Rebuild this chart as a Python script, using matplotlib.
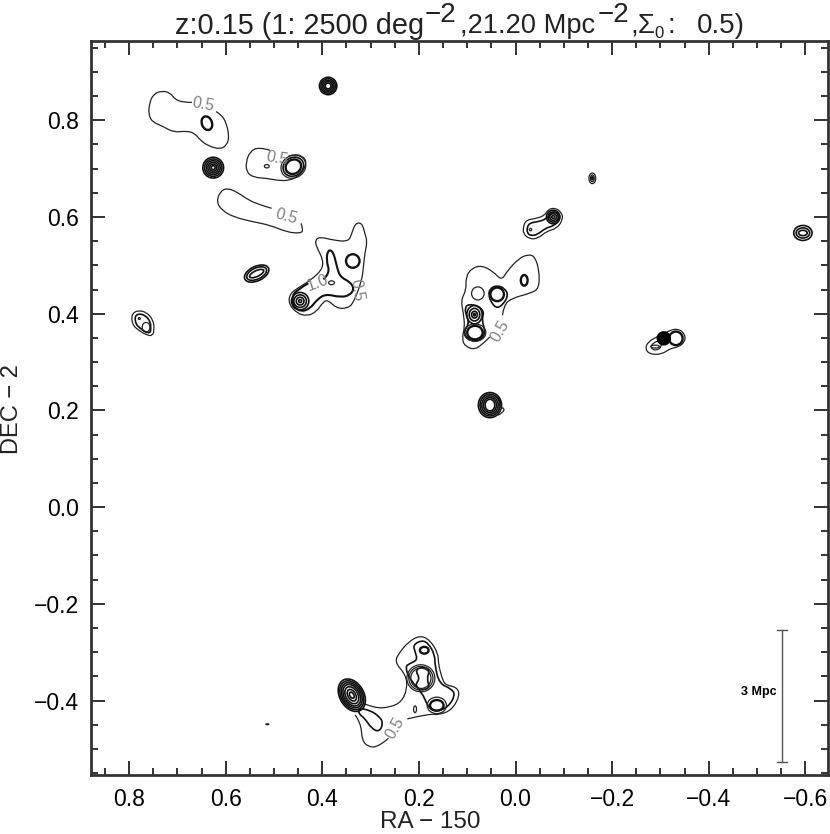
import numpy as np
import matplotlib
matplotlib.use('Agg')
import matplotlib.pyplot as plt
from matplotlib.patches import Ellipse, PathPatch
from matplotlib.path import Path

# contornos, pares (RA-150, DEC-2)
nw_outer = [(.670,.837),(.688,.837),(.705,.843),(.715,.857),(.733,.861),(.750,.854),(.758,.835),(.760,.814),
            (.753,.797),(.729,.787),(.708,.775),(.681,.778),(.664,.773),(.653,.759),(.636,.747),(.612,.740),
            (.597,.749),(.593,.769),(.599,.794),(.608,.811),(.620,.818)]
mid_outer = [(.508,.738),(.532,.745),(.550,.735),(.558,.714),(.557,.693),(.543,.682),(.515,.680),(.488,.675),
             (.467,.676),(.453,.683),(.441,.693),(.432,.714),(.441,.726),(.457,.730),(.470,.726)]
long_outer = [(.505,.618),(.529,.625),(.553,.635),(.577,.652),(.598,.660),(.612,.652),(.619,.631),(.608,.614),
              (.584,.600),(.543,.590),(.508,.583),(.474,.569),(.446,.566),(.439,.573),(.444,.587)]
west_outer = [(.795,.390),(.793,.401),(.781,.407),(.764,.403),(.750,.387),(.748,.366),(.752,.354),(.764,.356),
              (.781,.366),(.792,.376)]
west_inner = [(.788,.390),(.786,.397),(.778,.400),(.766,.396),(.756,.384),(.755,.367),(.757,.360),(.766,.362),
              (.779,.371),(.786,.379)]
core_outer = [(.318,.469),(.315,.497),(.312,.525),(.307,.549),(.312,.566),(.318,.588),(.332,.587),(.339,.566),
              (.346,.549),(.377,.552),(.405,.559),(.415,.552),(.412,.538),(.398,.511),(.401,.490),(.425,.469),
              (.446,.456),(.467,.442),(.470,.421),(.453,.401),(.432,.395),(.412,.404),(.398,.425),(.388,.428),
              (.370,.411),(.349,.411),(.336,.421)]
core_inner = [(.429,.463),(.453,.449),(.463,.435),(.460,.414),(.443,.404),(.425,.411),(.412,.428),(.394,.441),
              (.363,.434),(.343,.438),(.334,.452),(.343,.466),(.363,.476),(.370,.497),(.377,.528),(.388,.533),
              (.392,.511),(.384,.483),(.398,.471)]
bell_outer = [(-.016,.580),(-.022,.594),(-.044,.597),(-.061,.604),(-.068,.616),(-.082,.619),(-.096,.609),(-.098,.594),
              (-.085,.576),(-.065,.571),(-.047,.556),(-.030,.554),(-.016,.565)]
bell_inner = [(-.024,.579),(-.030,.588),(-.046,.590),(-.064,.596),(-.072,.608),(-.082,.611),(-.090,.606),(-.091,.594),
              (-.080,.582),(-.062,.577),(-.046,.564),(-.032,.561),(-.024,.567)]
center_outer = [(.053,.352),(.063,.342),(.084,.325),(.105,.333),(.111,.349),(.105,.373),(.108,.401),(.113,.428),
                (.102,.449),(.103,.476),(.091,.494),(.070,.500),(.046,.487),(.029,.469),(.018,.487),(-.006,.514),
                (-.027,.523),(-.040,.518),(-.049,.490),(-.049,.452),(-.030,.442),(.008,.432),(.024,.418),(.027,.397)]
center_lobe = [(.105,.411),(.098,.420),(.077,.416),(.065,.404),(.070,.387),(.063,.366),(.067,.349),(.084,.342),
               (.101,.349),(.107,.363),(.096,.380),(.102,.397)]
center_ring = [(.056,.438),(.053,.452),(.038,.459),(.022,.452),(.015,.438),(.025,.420),(.038,.411),(.049,.421)]
east_outer = [(-.268,.328),(-.275,.342),(-.292,.352),(-.320,.366),(-.337,.369),(-.351,.358),(-.351,.342),(-.337,.331),
              (-.320,.328),(-.303,.316),(-.278,.316)]
east_inner = [(-.279,.330),(-.285,.340),(-.300,.345),(-.303,.331),(-.290,.323)]
tail = [(.038,.228),(.029,.216),(.030,.205),(.024,.205),(.024,.197),(.036,.190)]
south_a = [(.224,-.438),(.177,-.427),(.160,-.430),(.132,-.420),(.115,-.389),(.122,-.372),(.146,-.368),(.153,-.351),
           (.160,-.323),(.160,-.303),(.177,-.275),(.198,-.265),(.222,-.279),(.239,-.299),(.251,-.320),(.227,-.347),
           (.224,-.375),(.236,-.403),(.260,-.414),(.291,-.416),(.315,-.406)]
south_b = [(.263,-.478),(.284,-.496),(.305,-.496),(.318,-.482),(.320,-.447),(.332,-.430)]
south_lobe = [(.325,-.416),(.301,-.420),(.281,-.434),(.274,-.447),(.282,-.465),(.298,-.458),(.312,-.437),(.325,-.427)]
south_inner = [(.212,-.285),(.194,-.275),(.180,-.282),(.167,-.306),(.167,-.327),(.158,-.365),(.132,-.376),(.125,-.389),
               (.139,-.413),(.163,-.423),(.180,-.416),(.194,-.382),(.218,-.358),(.229,-.330),(.218,-.323),(.203,-.316),
               (.208,-.299)]
south_s = [(.208,-.337),(.191,-.330),(.177,-.337),(.184,-.354),(.177,-.375),(.198,-.378),(.208,-.368),(.198,-.354)]

open_lines = [nw_outer, mid_outer, long_outer, center_outer, south_a, south_b, tail]
open_thick = [core_inner]
closed_thin = [west_outer, core_outer, bell_outer, east_outer, east_inner]
closed_thick = [center_ring, west_inner, bell_inner, center_lobe, south_lobe, south_inner, south_s]

# anillos: ra, dec, ancho, alto, angulo
thin_rings = [
    (.460,.704,.053,.046,-30),
    (.515,.705,.010,.007,0),
    (.779,.390,.004,.004,0),(.765,.372,.016,.020,0),
    (.381,.464,.012,.008,0),
    (-.031,.574,.005,.005,0),
    (.078,.442,.026,.027,0),
    (.084,.361,.045,.036,0),
    (-.289,.332,.018,.006,0),
    (.163,-.410,.040,.034,0),(.208,-.418,.006,.014,0),(.514,-.449,.006,.002,0),
    (.196,-.354,.058,.056,0),(.196,-.354,.050,.049,0),(.196,-.354,.042,.042,0),
    (-.159,.680,.014,.022,0),(-.159,.680,.008,.014,0),
]
dense_rings = [
    (.388,.871,.036,.036,0),(.388,.871,.030,.030,0),(.388,.871,.024,.024,0),(.388,.871,.018,.018,0),
    (.388,.871,.012,.012,0),
    (.626,.702,.043,.043,0),(.626,.702,.036,.036,0),(.626,.702,.029,.029,0),(.626,.702,.022,.022,0),
    (.626,.702,.015,.015,0),(.626,.702,.008,.008,0),
    (.460,.704,.044,.038,-30),
    (.536,.483,.054,.030,-25),(.536,.483,.044,.023,-25),(.536,.483,.032,.012,-25),
    (.446,.426,.036,.036,0),(.446,.426,.026,.026,0),(.446,.426,.016,.016,0),(.446,.426,.006,.006,0),
    (-.159,.680,.003,.006,0),
    (-.595,.567,.038,.031,0),(-.595,.567,.028,.021,0),(-.595,.567,.018,.011,0),
    (-.078,.600,.028,.028,0),(-.078,.600,.021,.021,0),(-.078,.600,.014,.014,0),(-.078,.600,.006,.006,0),
    (.085,.398,.032,.038,0),(.085,.398,.022,.026,0),(.085,.398,.012,.014,0),(.085,.398,.004,.005,0),
    (.053,.211,.048,.052,0),(.053,.211,.041,.045,0),(.053,.211,.034,.038,0),(.053,.211,.027,.031,0),
    (.053,.211,.020,.024,0),
    (.339,-.389,.072,.050,60),(.339,-.389,.064,.044,60),(.339,-.389,.056,.038,60),(.339,-.389,.048,.032,60),
    (.339,-.389,.038,.025,60),(.339,-.389,.026,.016,60),(.339,-.389,.014,.008,60),
]
thick_rings = [
    (.460,.704,.033,.029,-30),
    (.639,.794,.021,.029,-20),
    (.337,.509,.028,.028,0),
    (.038,.440,.028,.028,0),
    (-.018,.469,.014,.022,0),
    (.084,.361,.032,.028,0),
    (-.332,.349,.028,.028,0),
    (.189,-.296,.018,.014,0),
    (.163,-.410,.028,.022,0),
]
filled_knot = (-.307, .349, .027, .027)

# etiquetas de contorno: texto, ra, dec, rotacion
contour_labels = [
    ('0.5', .647, .833, -10), ('0.5', .494, .722, -10), ('0.5', .475, .602, -15), ('1.0', .409, .463, 20),
    ('0.5', .328, .449, -80), ('0.5', .032, .363, 60), ('0.5', .249, -.457, 60),
]

bar_ra = -.552
bar_dec = [-.254, -.527]
bar_cap = .011

major_x = [0.8, 0.6, 0.4, 0.2, 0.0, -0.2, -0.4, -0.6]
major_y = [0.8, 0.6, 0.4, 0.2, 0.0, -0.2, -0.4]

plt.rcParams['font.family'] = ['Liberation Sans', 'DejaVu Sans']


def curve(pts, closed):
    # curva suave con los puntos como vertices de control
    p = np.array(pts)
    if closed:
        start = (p[-1] + p[0]) / 2
        verts = [start]
        codes = [Path.MOVETO]
        for i in range(len(p)):
            verts += [p[i], (p[i] + p[(i + 1) % len(p)]) / 2]
            codes += [Path.CURVE3, Path.CURVE3]
    else:
        verts = [p[0]]
        codes = [Path.MOVETO]
        for i in range(1, len(p) - 1):
            end = p[i + 1] if i == len(p) - 2 else (p[i] + p[i + 1]) / 2
            verts += [p[i], end]
            codes += [Path.CURVE3, Path.CURVE3]
    return Path(verts, codes)


fig = plt.figure(figsize=(8.3, 8.34), dpi=100)
ax = fig.add_axes([91 / 830, 59 / 834, 737 / 830, 734 / 834])
ax.set_xlim(0.879, -0.647)
ax.set_ylim(-0.554, 0.964)

for pts in open_lines:
    ax.add_patch(PathPatch(curve(pts, False), fill=False, ec='#222222', lw=0.9))
for pts in open_thick:
    ax.add_patch(PathPatch(curve(pts, False), fill=False, ec='#111111', lw=1.5))
for pts in closed_thin:
    ax.add_patch(PathPatch(curve(pts, True), fill=False, ec='#222222', lw=0.9))
for pts in closed_thick:
    ax.add_patch(PathPatch(curve(pts, True), fill=False, ec='#111111', lw=1.2))
for ra, dec, w, h, ang in thin_rings:
    ax.add_patch(Ellipse((ra, dec), w, h, angle=ang, fill=False, ec='#222222', lw=0.9))
for ra, dec, w, h, ang in dense_rings:
    ax.add_patch(Ellipse((ra, dec), w, h, angle=ang, fill=False, ec='#111111', lw=1.2))
for ra, dec, w, h, ang in thick_rings:
    ax.add_patch(Ellipse((ra, dec), w, h, angle=ang, fill=False, ec='#111111', lw=1.7))
ax.add_patch(Ellipse(filled_knot[:2], filled_knot[2], filled_knot[3], color='black'))

for txt, ra, dec, rot in contour_labels:
    ax.text(ra, dec, txt, fontsize=11.5, color='#808080', rotation=rot, ha='center', va='center')

ax.plot([bar_ra, bar_ra], bar_dec, color='#555555', lw=1)
for d in bar_dec:
    ax.plot([bar_ra - bar_cap, bar_ra + bar_cap], [d, d], color='#555555', lw=1)
ax.text(-.504, -.383, '3 Mpc', fontsize=9, fontweight='bold', ha='center', va='center')

ax.set_xticks(major_x)
ax.set_yticks(major_y)
ax.set_xticks(np.arange(-0.6, 0.851, 0.05), minor=True)
ax.set_yticks(np.arange(-0.55, 0.951, 0.05), minor=True)
ax.tick_params(which='major', direction='in', length=10, width=1.3, top=True, right=True, labelsize=16.5, pad=9,
               color='#222222')
ax.tick_params(which='minor', direction='in', length=5, width=1.3, top=True, right=True, color='#222222')
for s in ax.spines.values():
    s.set_linewidth(2)
    s.set_color('#333333')

fig.text(430 / 830, 1 - 822 / 834, 'RA \u2212 150', fontsize=17.5, ha='center', va='center', color='#222222')
fig.text(12 / 830, 1 - 409 / 834, 'DEC \u2212 2', fontsize=17, rotation=90, ha='center', va='center', color='#222222')

# titulo por piezas, los exponentes son casi del tamano del texto
title_parts = [(175, 26, 'z:0.15 (1: 2500 deg', 20.8), (425, 15, '\u22122', 20), (460, 26, ',21.20 Mpc', 19.6),
               (598, 15, '\u22122', 20), (630, 26, ',\u03a3', 20), (654, 33, '0', 12), (667, 26, ':', 20),
               (697, 26, '0.5)', 20)]
for px, py, txt, size in title_parts:
    fig.text(px / 830, 1 - py / 834, txt, fontsize=size, ha='left', va='center', color='#222222')

fig.savefig('out.png', dpi=100)
